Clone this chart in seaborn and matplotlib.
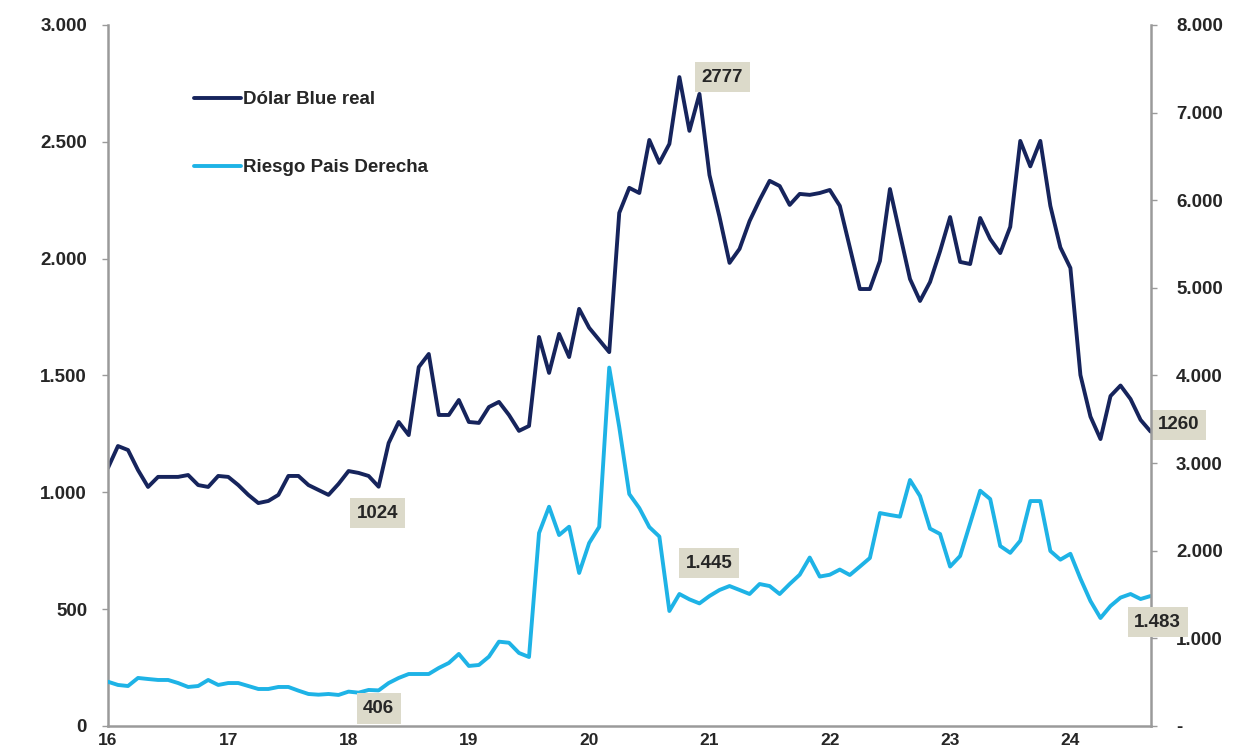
import numpy as np
import pandas as pd
import matplotlib
matplotlib.use("Agg")
import matplotlib.pyplot as plt
import seaborn as sns
from matplotlib.lines import Line2D

# Monthly data, Jan 2016 .. Sep 2024
dolar_blue_real = [
    1104, 1198, 1181, 1095, 1023, 1066, 1066, 1066, 1074, 1031, 1023, 1070,
    1066, 1031, 989, 954, 963, 989, 1070, 1070, 1031, 1010, 989, 1036,
    1091, 1083, 1070, 1024, 1211, 1301, 1245, 1536, 1592, 1331, 1331, 1395,
    1301, 1297, 1365, 1387, 1331, 1263, 1284, 1665, 1511, 1678, 1579, 1785,
    1704, 1652, 1600, 2196, 2303, 2281, 2508, 2410, 2491, 2777, 2547, 2705,
    2358, 2179, 1982, 2042, 2161, 2251, 2333, 2311, 2230, 2277, 2273, 2281,
    2294, 2226, 2048, 1870, 1870, 1990, 2298, 2105, 1913, 1819, 1900, 2032,
    2178, 1986, 1977, 2174, 2084, 2024, 2136, 2504, 2395, 2504, 2226, 2048,
    1960, 1502, 1324, 1228, 1412, 1457, 1399, 1310, 1260,
]
riesgo_pais = [
    505, 468, 456, 548, 536, 525, 525, 490, 445, 456, 525, 468,
    490, 490, 456, 422, 422, 445, 445, 403, 365, 357, 365, 354,
    392, 380, 411, 406, 490, 548, 593, 593, 593, 662, 719, 822,
    685, 696, 791, 962, 950, 833, 787, 2202, 2502, 2179, 2274, 1746,
    2088, 2272, 4090, 3411, 2647, 2487, 2270, 2162, 1312, 1506, 1445, 1399,
    1483, 1552, 1597, 1552, 1506, 1620, 1597, 1506, 1620, 1726, 1922, 1705,
    1726, 1785, 1723, 1819, 1917, 2430, 2408, 2389, 2807, 2624, 2252, 2191,
    1819, 1940, 2312, 2685, 2590, 2054, 1976, 2114, 2567, 2567, 1997, 1898,
    1965, 1682, 1426, 1232, 1369, 1465, 1506, 1449, 1483,
]
year_ticks = [16, 17, 18, 19, 20, 21, 22, 23, 24]
year_labels = ["16", "17", "18", "19", "20", "21", "22", "23", "24"]
left_ticks = [0, 500, 1000, 1500, 2000, 2500, 3000]
right_ticks = [0, 1000, 2000, 3000, 4000, 5000, 6000, 7000, 8000]
label_dolar = "Dólar Blue real"
label_riesgo = "Riesgo Pais Derecha"

# annotations: (text, index into series)
ann_dolar = [("2777", 57), ("1024", 27), ("1260", 104)]
ann_riesgo = [("406", 27), ("1.445", 58), ("1.483", 104)]

n = len(dolar_blue_real)
x = 16 + np.arange(n) / 12.0
df = pd.DataFrame({"x": x, "dolar": dolar_blue_real, "riesgo": riesgo_pais})

sns.set_style("white")
plt.rcParams["font.family"] = ["Liberation Sans", "DejaVu Sans"]
plt.rcParams["font.weight"] = "bold"

DARK = "#16245c"
LIGHT = "#1eb3e6"
GRAY = "#9a9a9a"
TXT = "#262626"
BOX = "#dcdaca"
FS = 13.5

fig = plt.figure(figsize=(12.45, 7.53), dpi=100)
ax = fig.add_axes([0.0867, 0.0359, 0.8378, 0.9309])
ax2 = ax.twinx()

sns.lineplot(data=df, x="x", y="dolar", ax=ax, color=DARK, linewidth=2.8, legend=False)
sns.lineplot(data=df, x="x", y="riesgo", ax=ax2, color=LIGHT, linewidth=2.8, legend=False)

ax.set_xlim(16, 24.67)
ax.set_ylim(0, 3000)
ax2.set_ylim(0, 8000)

fmt = lambda v: f"{v:,.0f}".replace(",", ".")
ax.set_xticks(year_ticks)
ax.set_xticklabels(year_labels)
ax.set_yticks(left_ticks)
ax.set_yticklabels([fmt(v) for v in left_ticks])
ax2.set_yticks(right_ticks)
ax2.set_yticklabels(["-" if v == 0 else fmt(v) for v in right_ticks])
ax.set_xlabel("")
ax.set_ylabel("")
ax2.set_ylabel("")

for a in (ax, ax2):
    for s in a.spines.values():
        s.set_visible(False)
    a.tick_params(colors=GRAY, labelcolor=TXT, labelsize=FS, length=4, width=1)
ax.spines["left"].set_visible(True)
ax.spines["bottom"].set_visible(True)
ax2.spines["right"].set_visible(True)
for s in (ax.spines["left"], ax.spines["bottom"], ax2.spines["right"]):
    s.set_color(GRAY)
    s.set_linewidth(1.8)
ax.tick_params(axis="y", pad=11)
ax2.tick_params(axis="y", pad=14)
ax.tick_params(axis="x", pad=1, labelsize=12.5)
for lab in ax.get_yticklabels() + ax2.get_yticklabels() + ax.get_xticklabels():
    lab.set_fontweight("bold")

bbox = dict(boxstyle="square,pad=0.35", fc=BOX, ec="none")
offs_d = {"2777": (31, 0), "1024": (-1, -19), "1260": (20, 5)}
offs_r = {"406": (0, -13), "1.445": (14, 26), "1.483": (5, -19)}
for t, i in ann_dolar:
    dx, dy = offs_d[t]
    ax.annotate(t, (x[i], dolar_blue_real[i]), xytext=(dx, dy), textcoords="offset points",
                ha="center", va="center", fontsize=FS, fontweight="bold", color=TXT,
                bbox=bbox, zorder=5, annotation_clip=False)
for t, i in ann_riesgo:
    dx, dy = offs_r[t]
    ax2.annotate(t, (x[i], riesgo_pais[i]), xytext=(dx, dy), textcoords="offset points",
                 ha="center", va="center", fontsize=FS, fontweight="bold", color=TXT,
                 bbox=bbox, zorder=5, annotation_clip=False)

handles = [Line2D([], [], color=DARK, linewidth=2.8), Line2D([], [], color=LIGHT, linewidth=2.8)]
leg = ax.legend(handles, [label_dolar, label_riesgo], loc="upper left",
                bbox_to_anchor=(0.066, 0.930), frameon=False, handlelength=2.5,
                handletextpad=0.15, labelspacing=2.72,
                prop={"weight": "bold", "size": FS})
for t in leg.get_texts():
    t.set_color(TXT)

fig.savefig("out.png", dpi=100)
